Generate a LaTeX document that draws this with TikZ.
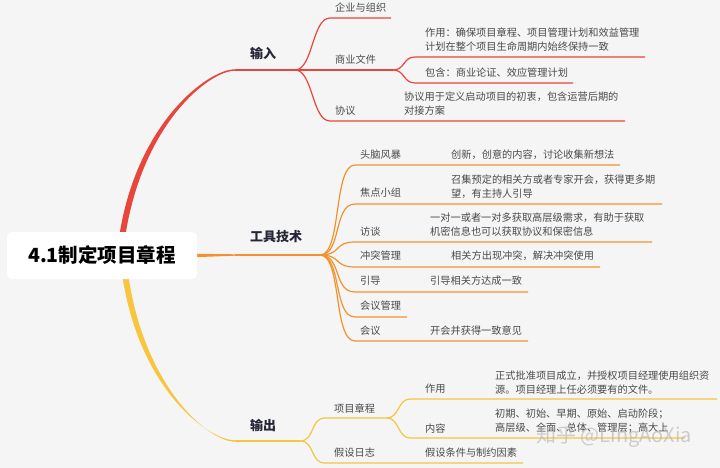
\documentclass[tikz,border=0pt]{standalone}
\usepackage{fontspec}
\setmainfont{Noto Sans CJK SC}
\usepackage{xcolor}
\usepackage{tikz}
\usetikzlibrary{backgrounds}
\definecolor{mapbg}{HTML}{F5F5F5}
\definecolor{mapred}{HTML}{E8453C}
\definecolor{maporange}{HTML}{F2922F}
\definecolor{mapyellow}{HTML}{F7C53E}
\definecolor{leafink}{HTML}{4A4A4A}
\definecolor{topicink}{HTML}{262636}
\tikzset{
  rootbox/.style={
    fill=white,
    rounded corners=5pt,
    minimum width=190pt,
    minimum height=47pt,
    inner sep=0pt,
    text=black,
    font=\fontsize{19.5}{23}\selectfont\bfseries
  },
  topic/.style={
    anchor=west,
    inner sep=0pt,
    text=topicink,
    font=\fontsize{13}{16}\selectfont\bfseries
  },
  leaf/.style={
    anchor=west,
    inner sep=0pt,
    align=left,
    text=leafink,
    font=\fontsize{10.2}{14}\selectfont
  },
  redline/.style={draw=mapred, line width=1.2pt},
  orangeline/.style={draw=maporange, line width=1.2pt},
  yellowline/.style={draw=mapyellow, line width=1.2pt},
  watermark/.style={text=black!30, opacity=0.6, font=\fontsize{20}{22}\selectfont}
}

\begin{document}
\begin{tikzpicture}[x=1pt, y=-1pt]
    \useasboundingbox (0,0) rectangle (720,468);

    % centre
    \node[rootbox] (root) at (102,255.5) {4.1制定项目章程};

    % branch points
    \coordinate (in-a) at (235,70);
    \coordinate (in) at (295,70);
    \coordinate (tool) at (320,255);
    \coordinate (out-a) at (235,441);
    \coordinate (out) at (300,441);

    \node[topic] (in-t) at (250,53) {输入};
    \node[topic] (tool-t) at (250,237) {工具技术};
    \node[topic] (out-t) at (250,425) {输出};

    % input
    \coordinate (ent) at (330,18);
    \coordinate (ent-end) at (391,18);
    \coordinate (biz) at (393,70);
    \coordinate (biz-use) at (415,57);
    \coordinate (biz-use-end) at (645,57);
    \coordinate (biz-inc) at (415,83);
    \coordinate (biz-inc-end) at (573,83);
    \coordinate (agr) at (330,121);
    \coordinate (agr-end) at (625,121);

    \node[leaf] (ent-t) at (335,8) {企业与组织};
    \node[leaf] (biz-t) at (335,60) {商业文件};
    \node[leaf] (agr-t) at (335,111) {协议};
    \node[leaf] (biz-use-t) at (425,40) {作用：确保项目章程、项目管理计划和效益管理\\计划在整个项目生命周期内始终保持一致};
    \node[leaf] (biz-inc-t) at (425,73) {包含：商业论证、效应管理计划};
    \node[leaf] (agr-x) at (404,104) {协议用于定义启动项目的初衷，包含运营后期的\\对接方案};

    % tools
    \coordinate (brain) at (355,165);
    \coordinate (brain-end) at (620,165);
    \coordinate (focus) at (355,204);
    \coordinate (focus-end) at (662,204);
    \coordinate (inter) at (355,242);
    \coordinate (inter-end) at (652,242);
    \coordinate (confl) at (355,267);
    \coordinate (confl-end) at (600,267);
    \coordinate (guide) at (355,292);
    \coordinate (guide-end) at (528,292);
    \coordinate (mtmg) at (355,317);
    \coordinate (mtmg-end) at (407,317);
    \coordinate (meet) at (355,341);
    \coordinate (meet-end) at (528,341);

    \node[leaf] (brain-t) at (360,155) {头脑风暴};
    \node[leaf] (brain-x) at (451,155) {创新，创意的内容，讨论收集新想法};
    \node[leaf] (focus-t) at (360,193) {焦点小组};
    \node[leaf] (focus-x) at (451,187) {召集预定的相关方或者专家开会，获得更多期\\望，有主持人引导};
    \node[leaf] (inter-t) at (360,232) {访谈};
    \node[leaf] (inter-x) at (430,225) {一对一或者一对多获取高层级需求，有助于获取\\机密信息也可以获取协议和保密信息};
    \node[leaf] (confl-t) at (360,256) {冲突管理};
    \node[leaf] (confl-x) at (451,256) {相关方出现冲突，解决冲突使用};
    \node[leaf] (guide-t) at (360,281) {引导};
    \node[leaf] (guide-x) at (430,281) {引导相关方达成一致};
    \node[leaf] (mtmg-t) at (360,306) {会议管理};
    \node[leaf] (meet-t) at (360,331) {会议};
    \node[leaf] (meet-x) at (430,331) {开会并获得一致意见};

    % output
    \coordinate (chart-s) at (325,418);
    \coordinate (chart) at (387,418);
    \coordinate (ch-use) at (410,399);
    \coordinate (ch-use-end) at (717,399);
    \coordinate (ch-cont) at (410,438);
    \coordinate (ch-cont-end) at (685,438);
    \coordinate (assume) at (325,463);
    \coordinate (assume-end) at (523,463);

    \node[leaf] (chart-t) at (334,409) {项目章程};
    \node[leaf] (ch-use-t) at (425,389) {作用};
    \node[leaf] (ch-use-x) at (495,382.5) {正式批准项目成立，并授权项目经理使用组织资\\源。项目经理上任必须要有的文件。};
    \node[leaf] (ch-cont-t) at (425,429) {内容};
    \node[leaf] (ch-cont-x) at (495,421.5) {初期、初始、早期、原始、启动阶段；\\高层级、全面、总体、管理层；高大上};
    \node[leaf] (assume-t) at (334,453) {假设日志};
    \node[leaf] (assume-x) at (425,453) {假设条件与制约因素};

    \node[watermark, anchor=west] (mark) at (533,437) {知乎 @LingAoXia};

    \begin{scope}[on background layer]
        \fill[mapbg] (0,0) rectangle (720,468);

        % main branches, thick at the centre
        \fill[mapred] ([xshift=17pt,yshift=-6pt]root.north) .. controls (136,123) and (208,69.3) .. (235,69.3)
            -- (235,70.7) .. controls (209,70.8) and (142,124) .. ([xshift=23pt,yshift=-6pt]root.north) -- cycle;
        \draw[redline] (in-a) -- (in);
        \fill[maporange] ([xshift=-5pt,yshift=1.8pt]root.east) -- (235,254.3) -- (235,255.7)
            -- ([xshift=-5pt,yshift=-1.8pt]root.east) -- cycle;
        \draw[orangeline] (235,255) -- (tool);
        \fill[mapyellow] ([xshift=20pt,yshift=6pt]root.south) .. controls (138,388) and (208,440.3) .. (235,440.3)
            -- (235,441.7) .. controls (209,441.8) and (144,388) .. ([xshift=26pt,yshift=6pt]root.south) -- cycle;
        \draw[yellowline] (out-a) -- (out);

        % input
        \draw[redline] (in) .. controls +(18,0) and +(-18,0) .. (ent) -- (ent-end);
        \draw[redline] (in) -- (biz);
        \draw[redline] (biz) .. controls +(12,0) and +(-12,0) .. (biz-use) -- (biz-use-end);
        \draw[redline] (biz) .. controls +(12,0) and +(-12,0) .. (biz-inc) -- (biz-inc-end);
        \draw[redline] (in) .. controls +(18,0) and +(-18,0) .. (agr) -- (agr-end);

        % tools
        \draw[orangeline] (tool) .. controls +(22,0) and +(-22,0) .. (brain) -- (brain-end);
        \draw[orangeline] (tool) .. controls +(22,0) and +(-22,0) .. (focus) -- (focus-end);
        \draw[orangeline] (tool) .. controls +(22,0) and +(-22,0) .. (inter) -- (inter-end);
        \draw[orangeline] (tool) .. controls +(22,0) and +(-22,0) .. (confl) -- (confl-end);
        \draw[orangeline] (tool) .. controls +(22,0) and +(-22,0) .. (guide) -- (guide-end);
        \draw[orangeline] (tool) .. controls +(22,0) and +(-22,0) .. (mtmg) -- (mtmg-end);
        \draw[orangeline] (tool) .. controls +(22,0) and +(-22,0) .. (meet) -- (meet-end);

        % output
        \draw[yellowline] (out) .. controls +(15,0) and +(-15,0) .. (chart-s) -- (chart);
        \draw[yellowline] (chart) .. controls +(12,0) and +(-12,0) .. (ch-use) -- (ch-use-end);
        \draw[yellowline] (chart) .. controls +(12,0) and +(-12,0) .. (ch-cont) -- (ch-cont-end);
        \draw[yellowline] (out) .. controls +(15,0) and +(-15,0) .. (assume) -- (assume-end);
    \end{scope}
\end{tikzpicture}
\end{document}
